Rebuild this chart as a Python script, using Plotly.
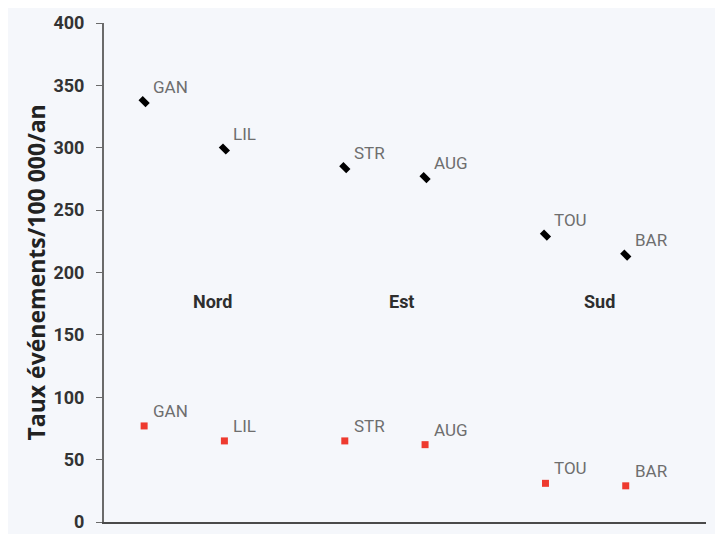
import plotly.graph_objects as go

sites = ["GAN", "LIL", "STR", "AUG", "TOU", "BAR"]
x_pos = [1, 2, 3.5, 4.5, 6, 7]
serie_noire = [337, 299, 284, 276, 230, 214]
serie_rouge = [77, 65, 65, 62, 31, 29]
regions = ["Nord", "Est", "Sud"]
region_x = [1.85, 4.21, 6.67]
region_y = [177, 177, 177]
y_ticks = [0, 50, 100, 150, 200, 250, 300, 350, 400]
y_title = "Taux événements/100 000/an"

# page body has an 8px margin: compensate so the plot area lands where the reference has it
W, H = 723, 534
ml, mr, mt, mb = 96, 25, 15, 20
pw = W - ml - mr

fig = go.Figure()
fig.add_trace(go.Scatter(
    x=x_pos, y=serie_noire, mode="markers",
    marker=dict(symbol="line-nw", size=7, color="#000000",
                line=dict(color="#000000", width=6)),
    showlegend=False, hoverinfo="skip"))
fig.add_trace(go.Scatter(
    x=x_pos, y=serie_rouge, mode="markers",
    marker=dict(symbol="square", size=7, color="#ee3a2f", line=dict(width=0)),
    showlegend=False, hoverinfo="skip"))

annotations = []
for xs, ys in ((x_pos, serie_noire), (x_pos, serie_rouge)):
    for name, xv, yv in zip(sites, xs, ys):
        annotations.append(dict(x=xv, y=yv, text=name, showarrow=False,
                                xanchor="left", yanchor="middle",
                                xshift=7, yshift=15,
                                font=dict(family="Roboto", size=17, color="#6e6e6e")))
for name, xv, yv in zip(regions, region_x, region_y):
    annotations.append(dict(x=xv, y=yv, text="<b>" + name + "</b>", showarrow=False,
                            xanchor="center", yanchor="middle",
                            font=dict(family="Roboto", size=18, color="#2e2e2e")))
annotations.append(dict(x=(27 - ml) / pw, y=0.5, xref="paper", yref="paper",
                        text="<b>" + y_title + "</b>", textangle=-90, showarrow=False,
                        xanchor="center", yanchor="middle",
                        font=dict(family="Open Sans", size=23, color="#222222")))

fig.update_layout(
    width=W, height=H,
    margin=dict(l=ml, r=mr, t=mt, b=mb, autoexpand=False),
    paper_bgcolor="#f5f7fb", plot_bgcolor="rgba(0,0,0,0)",
    annotations=annotations,
    xaxis=dict(range=[0.5, 8.0], showgrid=False, zeroline=False,
               showticklabels=False, ticks="", showline=True, automargin=False,
               linecolor="#4a4a4a", linewidth=2),
    yaxis=dict(range=[0, 400], tickvals=y_ticks, showgrid=False, zeroline=False,
               showline=True, linecolor="#6a6a6a", linewidth=2, automargin=False,
               ticks="outside", ticklen=6, tickcolor="#6a6a6a", tickwidth=1,
               ticklabelstandoff=8,
               tickfont=dict(family="Roboto", size=18, color="#333333", weight="bold")),
)

fig.write_html("out.html")
